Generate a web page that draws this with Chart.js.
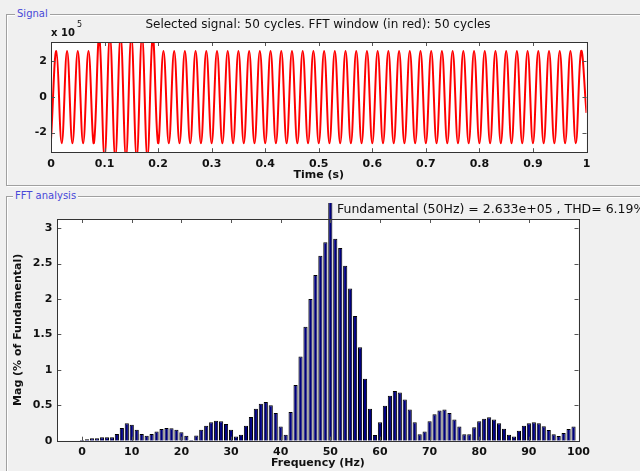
<!DOCTYPE html>
<html><head><meta charset="utf-8">
<script src="https://cdn.jsdelivr.net/npm/chart.js@4.4.0/dist/chart.umd.min.js"></script>
<style>
html,body{margin:0;padding:0;background:#f0f0f0;width:640px;height:471px;overflow:hidden;}
.box{position:absolute;border:1px solid #a0a0a0;box-shadow:1px 1px 0 #fff, inset 1px 1px 0 #fff;}
.lg{position:absolute;background:#f0f0f0;color:#4848d8;font:10px "DejaVu Sans";padding:0 2px;line-height:12px;}
canvas{position:absolute;left:0;}
</style></head>
<body>
<div class="box" style="left:6px;top:14px;width:660px;height:170px"></div>
<div class="lg" style="left:15px;top:8px">Signal</div>
<div class="box" style="left:6px;top:196px;width:660px;height:300px"></div>
<div class="lg" style="left:13px;top:190px">FFT analysis</div>
<canvas id="c1" width="640" height="190" style="top:0"></canvas>
<canvas id="c2" width="640" height="281" style="top:190px"></canvas>
<script>
// ---------- data ----------
// Signal: successive half-cycle extremes (units of 1e5), sampled every 10 ms (t = 0 ... 1 s)
const signalHalfPeriod = 0.01;
const signalExtremes = [
  -2.4, 2.56, -2.6, 2.56, -2.6, 2.56, -2.6, 2.56, -2.6, 3.4,
  -3.4, 3.4, -3.4, 3.4, -3.4, 3.4, -3.4, 3.4, -3.4, 3.4,
  -2.6, 2.56, -2.6, 2.56, -2.6, 2.56, -2.6, 2.56, -2.6, 2.56,
  -2.6, 2.56, -2.6, 2.56, -2.6, 2.56, -2.6, 2.56, -2.6, 2.56,
  -2.6, 2.56, -2.6, 2.56, -2.6, 2.56, -2.6, 2.56, -2.6, 2.56,
  -2.6, 2.56, -2.6, 2.56, -2.6, 2.56, -2.6, 2.56, -2.6, 2.56,
  -2.6, 2.56, -2.6, 2.56, -2.6, 2.56, -2.6, 2.56, -2.6, 2.56,
  -2.6, 2.56, -2.6, 2.56, -2.6, 2.56, -2.6, 2.56, -2.6, 2.56,
  -2.6, 2.56, -2.6, 2.56, -2.6, 2.56, -2.6, 2.56, -2.6, 2.56,
  -2.6, 2.56, -2.6, 2.56, -2.6, 2.56, -2.6, 2.56, -2.6, 2.56,
  -0.9
];
const timeTicks = [0, 0.1, 0.2, 0.3, 0.4, 0.5, 0.6, 0.7, 0.8, 0.9, 1];
const signalYTicks = [-2, 0, 2];

// FFT: harmonic frequencies (Hz) and magnitudes (% of fundamental)
const fftFreqs = [
  0,1,2,3,4,5,6,7,8,9,10,11,12,13,14,15,16,17,18,19,
  20,21,22,23,24,25,26,27,28,29,30,31,32,33,34,35,36,37,38,39,
  40,41,42,43,44,45,46,47,48,49,50,51,52,53,54,55,56,57,58,59,
  60,61,62,63,64,65,66,67,68,69,70,71,72,73,74,75,76,77,78,79,
  80,81,82,83,84,85,86,87,88,89,90,91,92,93,94,95,96,97,98,99
];
const fftMags = [
  0.01, 0.02, 0.035, 0.035, 0.05, 0.05, 0.05, 0.095, 0.18, 0.245,
  0.225, 0.155, 0.095, 0.07, 0.095, 0.13, 0.165, 0.18, 0.175, 0.155,
  0.12, 0.07, 0.01, 0.075, 0.155, 0.21, 0.26, 0.28, 0.275, 0.235,
  0.155, 0.06, 0.085, 0.21, 0.335, 0.45, 0.52, 0.545, 0.5, 0.39,
  0.2, 0.085, 0.405, 0.785, 1.19, 1.61, 2.0, 2.34, 2.61, 2.80,
  100, 2.85, 2.72, 2.47, 2.15, 1.76, 1.32, 0.875, 0.45, 0.08,
  0.26, 0.495, 0.635, 0.70, 0.68, 0.58, 0.44, 0.26, 0.09, 0.13,
  0.275, 0.375, 0.425, 0.44, 0.39, 0.30, 0.20, 0.09, 0.09, 0.19,
  0.275, 0.31, 0.33, 0.30, 0.245, 0.17, 0.085, 0.06, 0.14, 0.21,
  0.245, 0.26, 0.245, 0.205, 0.15, 0.09, 0.065, 0.11, 0.165, 0.2
];
const fftXTicks = [0, 10, 20, 30, 40, 50, 60, 70, 80, 90, 100];
const fftYTicks = [0, 0.5, 1, 1.5, 2, 2.5, 3];

const signalTitle = 'Selected signal: 50 cycles. FFT window (in red): 50 cycles';
const fftTitle = 'Fundamental (50Hz) = 2.633e+05 , THD= 6.19%';

// ---------- helpers ----------
const FONT = 'DejaVu Sans';
const tickFont = {family: FONT, size: 11, weight: 'bold'};
const TXT = '#111';

const axesBox = {
  id: 'axesBox',
  beforeDatasetsDraw(chart) {
    const {ctx, chartArea: a} = chart;
    ctx.save();
    ctx.fillStyle = '#ffffff';
    ctx.fillRect(a.left, a.top, a.right - a.left, a.bottom - a.top);
    ctx.restore();
  },
  afterDatasetsDraw(chart, args, o) {
    const {ctx, chartArea: a, scales: {x, y}} = chart;
    const L = o.len;
    ctx.save();
    ctx.lineWidth = 1;
    ctx.strokeStyle = o.tickColor;
    ctx.beginPath();
    x.ticks.forEach(t => {
      const p = Math.round(x.getPixelForValue(t.value)) + 0.5;
      ctx.moveTo(p, a.top); ctx.lineTo(p, a.top + L);
      ctx.moveTo(p, a.bottom); ctx.lineTo(p, a.bottom - L);
    });
    y.ticks.forEach(t => {
      const p = Math.round(y.getPixelForValue(t.value)) + 0.5;
      ctx.moveTo(a.left, p); ctx.lineTo(a.left + L, p);
      ctx.moveTo(a.right, p); ctx.lineTo(a.right - L, p);
    });
    ctx.stroke();
    ctx.strokeStyle = o.boxColor;
    ctx.strokeRect(Math.round(a.left) + 0.5, Math.round(a.top) + 0.5,
      Math.round(a.right) - Math.round(a.left), Math.round(a.bottom) - Math.round(a.top));
    ctx.restore();
  }
};

const textLayer = {
  id: 'textLayer',
  afterDraw(chart, args, o) {
    const ctx = chart.ctx;
    ctx.save();
    (o.items || []).forEach(it => {
      ctx.font = it.font;
      ctx.fillStyle = it.color || TXT;
      ctx.textAlign = it.align || 'left';
      ctx.textBaseline = it.baseline || 'alphabetic';
      ctx.fillText(it.text, it.x, it.y);
    });
    ctx.restore();
  }
};

function fixedTicks(list) {
  return scale => { scale.ticks = list.map(v => ({value: v})); };
}

// ---------- chart 1 : signal ----------
const signalPoints = signalExtremes.map((v, i) => ({x: i * signalHalfPeriod, y: v}));

new Chart(document.getElementById('c1'), {
  type: 'line',
  data: {datasets: [{
    data: signalPoints,
    borderColor: '#ff0000',
    borderWidth: 2,
    pointRadius: 0,
    tension: 0.4,
    clip: 0
  }]},
  options: {
    responsive: false, animation: false, events: [],
    layout: {padding: {left: 0, right: 53.5, top: 42, bottom: 8.4}},
    plugins: {
      legend: {display: false}, tooltip: {enabled: false},
      axesBox: {len: 4, tickColor: '#555', boxColor: '#333'},
      textLayer: {items: [
        {text: signalTitle, x: 318, y: 25, align: 'center', baseline: 'middle', font: '12px "DejaVu Sans"'},
        {text: 'x 10', x: 51, y: 36, font: 'bold 10px "DejaVu Sans"'},
        {text: '5', x: 77, y: 27, font: '8px "DejaVu Sans"'}
      ]}
    },
    scales: {
      x: {
        type: 'linear', min: 0, max: 1,
        afterBuildTicks: fixedTicks(timeTicks),
        afterFit: s => { s.height = 29.4; },
        grid: {display: false, drawTicks: false},
        border: {display: false},
        ticks: {font: tickFont, color: TXT, padding: 5, autoSkip: false, maxRotation: 0,
                callback: v => String(v)},
        title: {display: true, text: 'Time (s)', font: tickFont, color: TXT, padding: 0}
      },
      y: {
        type: 'linear', min: -3.1, max: 3.07,
        afterBuildTicks: fixedTicks(signalYTicks),
        afterFit: s => { s.width = 51; },
        grid: {display: false, drawTicks: false},
        border: {display: false},
        ticks: {font: tickFont, color: TXT, padding: 4, autoSkip: false, callback: v => String(v)}
      }
    }
  },
  plugins: [axesBox, textLayer]
});

// ---------- chart 2 : FFT ----------
const fftPoints = fftFreqs.map((f, i) => ({x: f, y: fftMags[i]}));

new Chart(document.getElementById('c2'), {
  type: 'bar',
  data: {datasets: [{
    data: fftPoints,
    backgroundColor: '#000080',
    borderColor: '#000000',
    borderWidth: 1,
    barPercentage: 0.84,
    categoryPercentage: 1,
    clip: {left: 0, top: 16, right: 0, bottom: 0}
  }]},
  options: {
    responsive: false, animation: false, events: [],
    layout: {padding: {left: 0, right: 61.5, top: 29, bottom: 1.4}},
    plugins: {
      legend: {display: false}, tooltip: {enabled: false},
      axesBox: {len: 4, tickColor: '#555', boxColor: '#333'},
      textLayer: {items: [
        {text: fftTitle, x: 337, y: 20, baseline: 'middle', font: '12.5px "DejaVu Sans"'}
      ]}
    },
    scales: {
      x: {
        type: 'linear', min: -5, max: 100, offset: false,
        afterBuildTicks: fixedTicks(fftXTicks),
        afterFit: s => { s.height = 28.9; },
        grid: {display: false, drawTicks: false},
        border: {display: false},
        ticks: {font: tickFont, color: TXT, padding: 5, autoSkip: false, maxRotation: 0,
                callback: v => String(v)},
        title: {display: true, text: 'Frequency (Hz)', font: tickFont, color: TXT, padding: 0}
      },
      y: {
        type: 'linear', min: 0, max: 3.13,
        afterBuildTicks: fixedTicks(fftYTicks),
        afterFit: s => { s.width = 57.3; },
        grid: {display: false, drawTicks: false},
        border: {display: false},
        ticks: {font: tickFont, color: TXT, padding: 5, autoSkip: false, callback: v => String(v)},
        title: {display: true, text: 'Mag (% of Fundamental)', font: tickFont, color: TXT,
                padding: {top: 11.7, bottom: 0}}
      }
    }
  },
  plugins: [axesBox, textLayer]
});
</script>
</body></html>
